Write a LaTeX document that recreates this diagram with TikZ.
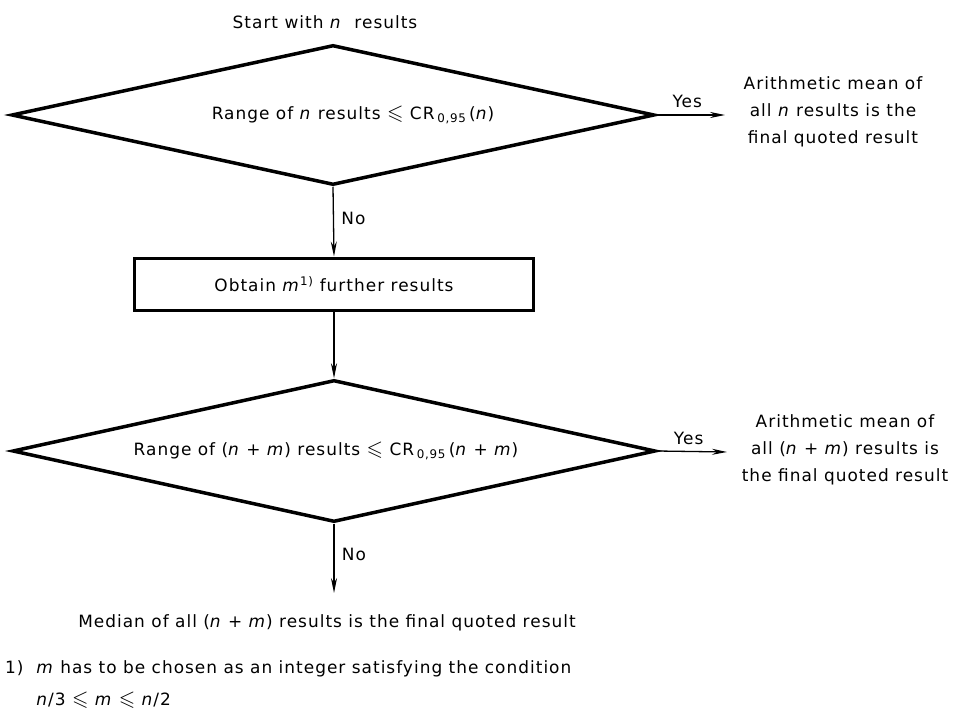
\documentclass[tikz,border=0pt]{standalone}
\usepackage{amssymb}
\usepackage{fontspec}
\setmainfont{DejaVu Sans}[LetterSpace=6]
\usetikzlibrary{shapes.geometric, arrows.meta, positioning}
\newcommand{\vn}{\textit{n}}
\newcommand{\vm}{\textit{m}}
\newcommand{\leqs}{\raisebox{-0.5bp}{\scalebox{1.25}{$\leqslant$}}}

\begin{document}
\begin{tikzpicture}[x=1bp, y=-1bp, >={Stealth[length=15bp, width=6bp]},
  font=\fontsize{17}{27}\selectfont,
  decision/.style={draw, diamond, aspect=4.6, line width=3.5bp, inner sep=0pt, minimum width=643bp, minimum height=140bp},
  process/.style={draw, rectangle, line width=3bp, minimum width=398bp, minimum height=52bp},
  flow/.style={->, line width=1.3bp},
  txt/.style={align=center, inner sep=0pt}]
  \useasboundingbox (0,0) rectangle (958,711);
  \node[txt] (start) at (325,22) {Start with \vn\ \ results};
  \node[decision] (dec1) at (333,115) {\hspace*{40bp}Range of \vn\ results \leqs\ CR\,\textsubscript{0,95}\,(\vn)};
  \node[process] (obtain) at (334,284) {Obtain \vm\textsuperscript{1)} further results};
  \node[decision, minimum height=142bp] (dec2) at (334,451) {Range of (\vn\ + \vm) results \leqs\ CR\,\textsubscript{0,95}\,(\vn\ + \vm)\hspace*{16bp}};
  \node[txt] (mean1) at (833,112) {Arithmetic mean of\\all \vn\ results is the\\final quoted result};
  \node[txt] (mean2) at (845,450) {Arithmetic mean of\\all (\vn\ + \vm) results is\\the final quoted result};
  \node[txt] (median) at (327,623) {Median of all (\vn\ + \vm) results is the final quoted result};
  \node[txt, align=left, anchor=west] (note) at (5,684) {\begin{tabular}{@{}l@{\ \ }l@{}}1) & \vm\ has to be chosen as an integer satisfying the condition\\[5bp]
    & \vn/3 \leqs\ \vm\ \leqs\ \vn/2\end{tabular}};
  % free ends of the arrows
  \coordinate (yes1) at (725,115);
  \coordinate (yes2) at (727,452);
  \coordinate (no2) at (334,593);
  \draw[flow] (dec1.east) -- node[above=3bp, pos=0.45] {Yes} (yes1);
  \draw[flow] (dec1.south) -- node[right=4bp, pos=0.45] {No} (obtain.north);
  \draw[flow] (obtain.south) -- (dec2.north);
  \draw[flow] (dec2.east) -- node[above=3bp, pos=0.45] {Yes} (yes2);
  \draw[flow] (dec2.south) -- node[right=4bp, pos=0.45] {No} (no2);
\end{tikzpicture}
\end{document}
